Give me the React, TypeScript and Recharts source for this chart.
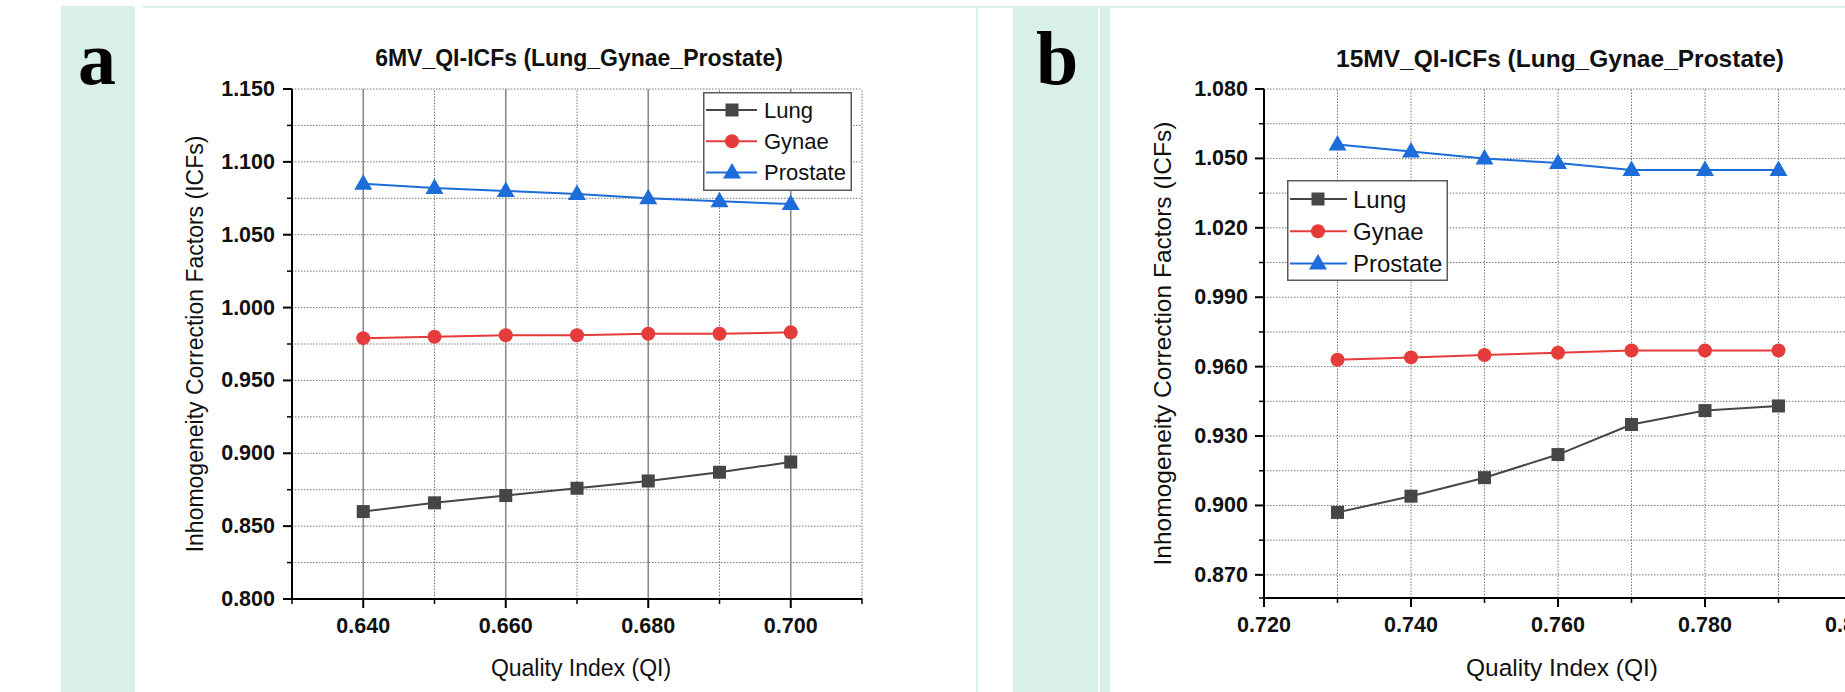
import { LineChart, Line, XAxis, YAxis, CartesianGrid, ReferenceLine, Legend, Label } from 'recharts';

// panel a: 6 MV
const qi6 = [0.64, 0.65, 0.66, 0.67, 0.68, 0.69, 0.7];
const lung6 = [0.86, 0.866, 0.871, 0.876, 0.881, 0.887, 0.894];
const gynae6 = [0.979, 0.98, 0.981, 0.981, 0.982, 0.982, 0.983];
const prostate6 = [1.085, 1.082, 1.08, 1.078, 1.075, 1.073, 1.071];

// panel b: 15 MV
const qi15 = [0.73, 0.74, 0.75, 0.76, 0.77, 0.78, 0.79];
const lung15 = [0.897, 0.904, 0.912, 0.922, 0.935, 0.941, 0.943];
const gynae15 = [0.963, 0.964, 0.965, 0.966, 0.967, 0.967, 0.967];
const prostate15 = [1.056, 1.053, 1.05, 1.048, 1.045, 1.045, 1.045];

// axis ticks
const xMajor6 = [0.64, 0.66, 0.68, 0.7];
const xMinor6 = [0.63, 0.65, 0.67, 0.69, 0.71];
const yMajor6 = [0.8, 0.85, 0.9, 0.95, 1.0, 1.05, 1.1, 1.15];
const yMinor6 = [0.825, 0.875, 0.925, 0.975, 1.025, 1.075, 1.125];

const xMajor15 = [0.72, 0.74, 0.76, 0.78, 0.8];
const xMinor15 = [0.73, 0.75, 0.77, 0.79];
const yMajor15 = [0.87, 0.9, 0.93, 0.96, 0.99, 1.02, 1.05, 1.08];
const yMinor15 = [0.86, 0.885, 0.915, 0.945, 0.975, 1.005, 1.035, 1.065];

const SANS = '"Liberation Sans", Arial, Helvetica, sans-serif';
const MINT = '#d9f0e7';

const SERIES = [
  { key: 'lung', name: 'Lung', color: '#464646', shape: 'square' },
  { key: 'gynae', name: 'Gynae', color: '#e53b3b', shape: 'circle' },
  { key: 'prostate', name: 'Prostate', color: '#1c6cd9', shape: 'triangle' },
];

type Row = { qi: number; lung: number; gynae: number; prostate: number };

const rows6: Row[] = qi6.map((qi, i) => ({ qi, lung: lung6[i], gynae: gynae6[i], prostate: prostate6[i] }));
const rows15: Row[] = qi15.map((qi, i) => ({ qi, lung: lung15[i], gynae: gynae15[i], prostate: prostate15[i] }));

const near = (v: number, list: number[]) => list.some((m) => Math.abs(m - v) < 1e-6);
const allTicks = (a: number[], b: number[]) => [...a, ...b].sort((p, q) => p - q);

function marker(shape: string, cx: number, cy: number, color: string, key?: string | number) {
  if (shape === 'square') {
    return <rect key={key} x={cx - 6.5} y={cy - 6.5} width={13} height={13} fill={color} />;
  }
  if (shape === 'circle') {
    return <circle key={key} cx={cx} cy={cy} r={7} fill={color} />;
  }
  return <path key={key} d={`M${cx},${cy - 9.5} L${cx + 9},${cy + 6} L${cx - 9},${cy + 6} Z`} fill={color} />;
}

function dotFor(shape: string, color: string) {
  return (props: any) => marker(shape, props.cx, props.cy, color, `${shape}-${props.index}`);
}

type Side = 'left' | 'right' | 'top' | 'bottom';

function axisTick(side: Side, majors: number[], fontSize: number, gap: number) {
  return (props: any) => {
    const { x, y, payload } = props;
    const v = Number(payload.value);
    const major = near(v, majors);
    const len = major ? 9 : 5;
    let x1 = x;
    let y2 = y;
    if (side === 'left' || side === 'right') x1 = x - len;
    if (side === 'top' || side === 'bottom') y2 = y + len;
    const label = v.toFixed(3);
    return (
      <g>
        <line x1={x1} y1={y} x2={x} y2={y2} stroke="#000" strokeWidth={major ? 2 : 1.5} />
        {major && side === 'left' && (
          <text x={x - gap} y={y} textAnchor="end" dominantBaseline="central" fontSize={fontSize} fontWeight="bold" fontFamily={SANS} fill="#111">
            {label}
          </text>
        )}
        {major && side === 'bottom' && (
          <text x={x} y={y + gap} textAnchor="middle" dominantBaseline="central" fontSize={fontSize} fontWeight="bold" fontFamily={SANS} fill="#111">
            {label}
          </text>
        )}
      </g>
    );
  };
}

type LegendGeom = { w: number; h: number; top: number; row: number; lx1: number; lx2: number; mx: number; tx: number; fs: number };

function legendContent(g: LegendGeom) {
  return (props: any) => {
    const items = SERIES.filter((s) => (props.payload || []).some((p: any) => p.value === s.name));
    return (
      <svg width={g.w} height={g.h} style={{ display: 'block' }}>
        <rect x={0.75} y={0.75} width={g.w - 1.5} height={g.h - 1.5} fill="#fff" stroke="#5a5a5a" strokeWidth={1.5} />
        {items.map((s, i) => {
          const cy = g.top + i * g.row;
          return (
            <g key={s.key}>
              <line x1={g.lx1} x2={g.lx2} y1={cy} y2={cy} stroke={s.color} strokeWidth={2} />
              {marker(s.shape, g.mx, cy, s.color)}
              <text x={g.tx} y={cy} dominantBaseline="central" fontSize={g.fs} fontFamily={SANS} fill="#111">
                {s.name}
              </text>
            </g>
          );
        })}
      </svg>
    );
  };
}

type PanelProps = {
  title: string;
  rows: Row[];
  width: number;
  margin: { top: number; right: number; bottom: number; left: number };
  xDomain: [number, number];
  xMajor: number[];
  xMinor: number[];
  yDomain: [number, number];
  yMajor: number[];
  yMinor: number[];
  solidMajors: boolean;
  legendPos: { left: number; top: number };
  legend: LegendGeom;
  titleSize: number;
  axisTitleSize: number;
  tickFont: number;
  yGap: number;
  yTitleDx: number;
};

const Y_AXIS_W = 60;

function Panel(p: PanelProps) {
  const xTicks = allTicks(p.xMajor, p.xMinor);
  const yTicks = allTicks(p.yMajor, p.yMinor);
  const gridVert = p.solidMajors ? p.xMinor : xTicks;
  const plotW = p.width - p.margin.left - p.margin.right - Y_AXIS_W;
  return (
    <LineChart width={p.width} height={692} data={p.rows} margin={p.margin}>
      <CartesianGrid vertical={false} stroke="#777" strokeDasharray="1.5 1.5" strokeWidth={1} />
      {gridVert.map((v) => (
        <ReferenceLine key={`gv${v}`} x={v} stroke="#777" strokeDasharray="1.5 1.5" strokeWidth={1} />
      ))}
      {p.solidMajors &&
        p.xMajor.map((v) => <ReferenceLine key={`gs${v}`} x={v} stroke="#8a8a8a" strokeWidth={1.6} />)}
      <XAxis
        dataKey="qi"
        type="number"
        domain={p.xDomain}
        allowDataOverflow
        ticks={xTicks}
        interval={0}
        height={40}
        tickSize={0}
        tickMargin={0}
        tickLine={false}
        axisLine={{ stroke: '#000', strokeWidth: 2 }}
        tick={axisTick('bottom', p.xMajor, p.tickFont, 27)}
      >
        <Label
          content={(lp: any) => {
            const vb = lp.viewBox || {};
            return (
              <text x={vb.x + vb.width / 2 + 4} y={vb.y + 69} textAnchor="middle" dominantBaseline="central" fontSize={p.axisTitleSize} fontFamily={SANS} fill="#111">
                Quality Index (QI)
              </text>
            );
          }}
        />
      </XAxis>
      <XAxis
        xAxisId="top"
        orientation="top"
        dataKey="qi"
        type="number"
        domain={p.xDomain}
        allowDataOverflow
        ticks={xTicks}
        interval={0}
        height={0}
        tickSize={0}
        tickMargin={0}
        tickLine={false}
        axisLine={{ stroke: '#000', strokeWidth: 2 }}
        tick={axisTick('top', p.xMajor, p.tickFont, 0)}
      />
      <YAxis
        type="number"
        domain={p.yDomain}
        allowDataOverflow
        ticks={yTicks}
        interval={0}
        width={Y_AXIS_W}
        tickSize={0}
        tickMargin={0}
        tickLine={false}
        axisLine={{ stroke: '#000', strokeWidth: 2 }}
        tick={axisTick('left', p.yMajor, p.tickFont, p.yGap)}
      >
        <Label
          content={(lp: any) => {
            const vb = lp.viewBox || {};
            const axisX = vb.x + vb.width;
            const cx = axisX - p.yTitleDx;
            const cy = vb.y + vb.height / 2;
            const tx = axisX + plotW / 2 + 2;
            return (
              <g>
                <text x={cx} y={cy} transform={`rotate(-90 ${cx} ${cy})`} textAnchor="middle" dominantBaseline="central" fontSize={p.axisTitleSize} fontFamily={SANS} fill="#111">
                  Inhomogeneity Correction Factors (ICFs)
                </text>
                <text x={tx} y={vb.y - 31} textAnchor="middle" dominantBaseline="central" fontSize={p.titleSize} fontWeight="bold" fontFamily={SANS} fill="#111">
                  {p.title}
                </text>
              </g>
            );
          }}
        />
      </YAxis>
      <YAxis
        yAxisId="right"
        orientation="right"
        type="number"
        domain={p.yDomain}
        allowDataOverflow
        ticks={yTicks}
        interval={0}
        width={0}
        tickSize={0}
        tickMargin={0}
        tickLine={false}
        axisLine={{ stroke: '#000', strokeWidth: 2 }}
        tick={axisTick('right', p.yMajor, p.tickFont, 0)}
      />
      <Legend
        layout="vertical"
        align="center"
        verticalAlign="middle"
        wrapperStyle={{ left: p.legendPos.left, top: p.legendPos.top, width: p.legend.w, height: p.legend.h }}
        content={legendContent(p.legend)}
      />
      {SERIES.map((s) => (
        <Line
          key={s.key}
          dataKey={s.key}
          name={s.name}
          type="linear"
          stroke={s.color}
          strokeWidth={2}
          dot={dotFor(s.shape, s.color)}
          activeDot={false}
          isAnimationActive={false}
        />
      ))}
    </LineChart>
  );
}

export default function App() {
  return (
    <div
      style={{
        position: 'absolute',
        left: 0,
        top: 0,
        width: 1845,
        height: 692,
        overflow: 'hidden',
        background: '#fff',
        fontFamily: SANS,
      }}
    >
      {/* frame decorations */}
      <div style={{ position: 'absolute', left: 61, top: 6, width: 74, height: 686, background: MINT }} />
      <div style={{ position: 'absolute', left: 143, top: 6, width: 1702, height: 2, background: MINT }} />
      <div style={{ position: 'absolute', left: 976, top: 6, width: 2, height: 686, background: MINT }} />
      <div style={{ position: 'absolute', left: 1013, top: 6, width: 85, height: 686, background: MINT }} />
      <div style={{ position: 'absolute', left: 1100, top: 6, width: 10, height: 686, background: MINT }} />
      <div style={{ position: 'absolute', left: 78, top: 8, fontFamily: '"Liberation Serif", "Times New Roman", serif', fontWeight: 'bold', fontSize: 76, lineHeight: '100px' }}>a</div>
      <div style={{ position: 'absolute', left: 1036, top: 8, fontFamily: '"Liberation Serif", "Times New Roman", serif', fontWeight: 'bold', fontSize: 76, lineHeight: '100px' }}>b</div>

      <div style={{ position: 'absolute', left: 0, top: 0 }}>
        <Panel
          title="6MV_QI-ICFs (Lung_Gynae_Prostate)"
          rows={rows6}
          width={980}
          margin={{ top: 89, right: 118, bottom: 53, left: 232 }}
          xDomain={[0.63, 0.71]}
          xMajor={xMajor6}
          xMinor={xMinor6}
          yDomain={[0.8, 1.15]}
          yMajor={yMajor6}
          yMinor={yMinor6}
          solidMajors
          legendPos={{ left: 703, top: 92 }}
          legend={{ w: 149, h: 99, top: 18, row: 31.3, lx1: 3, lx2: 54, mx: 29, tx: 61, fs: 22 }}
          titleSize={23}
          axisTitleSize={23}
          tickFont={21.5}
          yGap={17}
          yTitleDx={97}
        />
      </div>

      <div style={{ position: 'absolute', left: 1000, top: 0 }}>
        <Panel
          title="15MV_QI-ICFs (Lung_Gynae_Prostate)"
          rows={rows15}
          width={900}
          margin={{ top: 89, right: 48, bottom: 54, left: 204 }}
          xDomain={[0.72, 0.8]}
          xMajor={xMajor15}
          xMinor={xMinor15}
          yDomain={[0.86, 1.08]}
          yMajor={yMajor15}
          yMinor={yMinor15}
          solidMajors={false}
          legendPos={{ left: 287, top: 180 }}
          legend={{ w: 161, h: 101, top: 19, row: 32.2, lx1: 3, lx2: 60, mx: 31, tx: 66, fs: 24 }}
          titleSize={24.5}
          axisTitleSize={24.5}
          tickFont={21.5}
          yGap={16}
          yTitleDx={102}
        />
      </div>
    </div>
  );
}
